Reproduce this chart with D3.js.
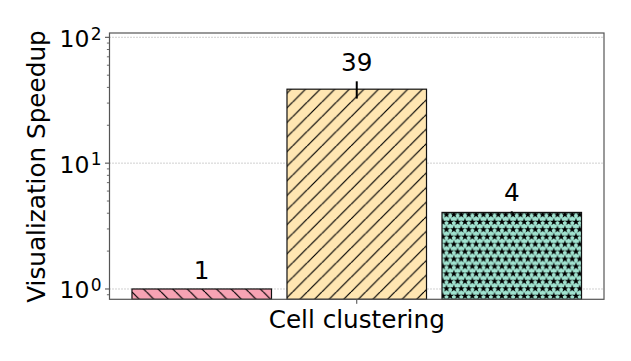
<!DOCTYPE html>
<html>
<head>
<meta charset="utf-8">
<script src="https://cdn.jsdelivr.net/npm/d3@7"></script>
<style>
  body { margin: 0; background: #fff; }
  svg { display: block; font-family: "DejaVu Sans", sans-serif; }
</style>
</head>
<body>
<svg id="chart" width="631" height="361"></svg>
<script>
// data
var categories = ["Cell clustering"];
var series = ["s1", "s2", "s3"];
var values = [1, 38.7, 4.06];
var errLow = [1, 32.6, 3.98];
var errHigh = [1, 44.7, 4.14];
var barLabels = ["1", "39", "4"];
var colors = ["#f7a3b4", "#ffe6b2", "#a0e3d0"];
var yTicks = [1, 10, 100];
var yTickExp = ["0", "1", "2"];

var svg = d3.select("#chart");
var plotLeft = 109.5, plotRight = 604, plotTop = 33, plotBottom = 299.3;

var x0 = d3.scaleBand().domain(categories).range([plotLeft, plotRight]).paddingInner(0).paddingOuter(0.05);
var x1 = d3.scaleBand().domain(series).range([0, x0.bandwidth()]).paddingInner(0.1).paddingOuter(0);
var y = d3.scaleLog().domain([0.828, 108.2]).range([plotBottom, plotTop]);

// hatch patterns
var defs = svg.append("defs");
function addLines(id, color, dir) {
  var s = 14.6;
  var p = defs.append("pattern").attr("id", id).attr("patternUnits", "userSpaceOnUse")
    .attr("width", s).attr("height", s);
  p.append("rect").attr("width", s).attr("height", s).attr("fill", color);
  var lines = dir === "fwd"
    ? [[0, s, s, 0], [-s, s, 0, 0], [s, s, 2 * s, 0]]
    : [[0, 0, s, s], [-s, 0, 0, s], [s, 0, 2 * s, s]];
  lines.forEach(function (l) {
    p.append("line").attr("x1", l[0]).attr("y1", l[1]).attr("x2", l[2]).attr("y2", l[3])
      .attr("stroke", "#000").attr("stroke-width", 1.2);
  });
}
function addStars(id, color) {
  var s = 7.4;
  var p = defs.append("pattern").attr("id", id).attr("patternUnits", "userSpaceOnUse")
    .attr("width", s).attr("height", 2 * s);
  p.append("rect").attr("width", s).attr("height", 2 * s).attr("fill", color);
  var star = d3.symbol().type(d3.symbolStar).size(19);
  [[0, 0], [s, 0], [s / 2, s], [0, 2 * s], [s, 2 * s]].forEach(function (c) {
    p.append("path").attr("d", star()).attr("transform", "translate(" + c[0] + "," + c[1] + ")")
      .attr("fill", "#000");
  });
}
addLines("h0", colors[0], "back");
addLines("h1", colors[1], "fwd");
addStars("h2", colors[2]);

// grid
svg.append("g").selectAll("line").data(yTicks).enter().append("line")
  .attr("x1", plotLeft).attr("x2", plotRight)
  .attr("y1", function (d) { return y(d); }).attr("y2", function (d) { return y(d); })
  .attr("stroke", "#999").attr("stroke-width", 0.9).attr("stroke-dasharray", "1,2");

// bars
var g = svg.append("g").attr("transform", "translate(" + x0(categories[0]) + ",0)");
g.selectAll("rect.bar").data(values).enter().append("rect").attr("class", "bar")
  .attr("x", function (d, i) { return x1(series[i]); })
  .attr("width", x1.bandwidth())
  .attr("y", function (d) { return y(d); })
  .attr("height", function (d) { return plotBottom - y(d); })
  .attr("fill", function (d, i) { return "url(#h" + i + ")"; })
  .attr("stroke", "#111").attr("stroke-width", 1.2);

// error bars
g.selectAll("line.err").data(values).enter().append("line").attr("class", "err")
  .attr("x1", function (d, i) { return x1(series[i]) + x1.bandwidth() / 2; })
  .attr("x2", function (d, i) { return x1(series[i]) + x1.bandwidth() / 2; })
  .attr("y1", function (d, i) { return y(errLow[i]); })
  .attr("y2", function (d, i) { return y(errHigh[i]); })
  .attr("stroke", "#000").attr("stroke-width", 2);

// bar labels
g.selectAll("text.lbl").data(values).enter().append("text").attr("class", "lbl")
  .attr("x", function (d, i) { return x1(series[i]) + x1.bandwidth() / 2; })
  .attr("y", function (d, i) { return y(Math.max(d, errHigh[i])) - 10; })
  .attr("text-anchor", "middle").attr("font-size", 24.7).attr("fill", "#000")
  .text(function (d, i) { return barLabels[i]; });

// y axis ticks
var minor = [];
[0.1, 1, 10].forEach(function (b) {
  for (var k = 2; k <= 9; k++) {
    var v = b * k;
    if (v > y.domain()[0] && v < y.domain()[1]) minor.push(v);
  }
});
svg.append("g").selectAll("line").data(minor).enter().append("line")
  .attr("x1", plotLeft - 2.6).attr("x2", plotLeft)
  .attr("y1", function (d) { return y(d); }).attr("y2", function (d) { return y(d); })
  .attr("stroke", "#444").attr("stroke-width", 0.8);
svg.append("g").selectAll("line").data(yTicks).enter().append("line")
  .attr("x1", plotLeft - 4.5).attr("x2", plotLeft)
  .attr("y1", function (d) { return y(d); }).attr("y2", function (d) { return y(d); })
  .attr("stroke", "#444").attr("stroke-width", 1);
var tl = svg.append("g").selectAll("text").data(yTicks).enter().append("text")
  .attr("x", 89.5).attr("y", function (d) { return y(d) + 9.4; })
  .attr("text-anchor", "end").attr("font-size", 23.5).attr("fill", "#000");
tl.append("tspan").text("10");
tl.append("tspan").attr("x", 90.8).attr("dy", -7.2).attr("text-anchor", "start")
  .attr("font-size", 17).text(function (d, i) { return yTickExp[i]; });

// x tick
svg.append("line")
  .attr("x1", x0(categories[0]) + x0.bandwidth() / 2).attr("x2", x0(categories[0]) + x0.bandwidth() / 2)
  .attr("y1", plotBottom).attr("y2", plotBottom + 4.5).attr("stroke", "#444").attr("stroke-width", 1);

// frame
svg.append("rect").attr("x", plotLeft).attr("y", plotTop)
  .attr("width", plotRight - plotLeft).attr("height", plotBottom - plotTop)
  .attr("fill", "none").attr("stroke", "#555").attr("stroke-width", 1.2);

// axis labels
svg.append("text").attr("x", x0(categories[0]) + x0.bandwidth() / 2).attr("y", 328)
  .attr("text-anchor", "middle").attr("font-size", 24.7).attr("fill", "#000").text(categories[0]);
svg.append("text").attr("transform", "translate(45,166.5) rotate(-90)")
  .attr("text-anchor", "middle").attr("font-size", 24.7).attr("fill", "#000").text("Visualization Speedup");
</script>
</body>
</html>
